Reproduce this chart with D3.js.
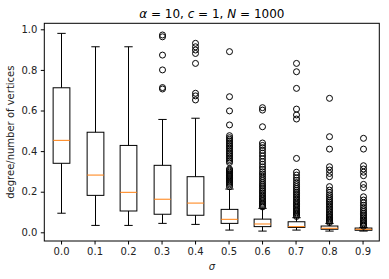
<!DOCTYPE html>
<html><head><meta charset="utf-8">
<script src="https://cdn.jsdelivr.net/npm/d3@7"></script>
<style>
body{margin:0;background:#fff;}
svg text{font-family:"DejaVu Sans",sans-serif;}
</style></head>
<body><svg id="chart" width="389" height="279"></svg>
<script>
const sigmaLabels = ["0.0","0.1","0.2","0.3","0.4","0.5","0.6","0.7","0.8","0.9"];
const whiskerLow  = [0.094,0.034,0.034,0.044,0.039,0.011,0.006,0.011,0.006,0.006];
const q1          = [0.340,0.182,0.105,0.089,0.084,0.044,0.028,0.024,0.015,0.010];
const median      = [0.453,0.282,0.197,0.163,0.144,0.064,0.041,0.028,0.020,0.015];
const q3          = [0.712,0.493,0.428,0.330,0.274,0.113,0.065,0.052,0.031,0.021];
const whiskerHigh = [0.980,0.914,0.914,0.556,0.562,0.213,0.118,0.072,0.044,0.024];
const fliers0 = [];
const fliers1 = [];
const fliers2 = [];
const fliers3 = [0.972,0.963,0.873,0.800,0.713,0.706];
const fliers4 = [0.931,0.914,0.898,0.881,0.832,0.685,0.672,0.652];
const fliers5 = [0.224,0.233,0.240,0.246,0.252,0.258,0.264,0.269,0.275,0.279,0.285,0.290,0.296,0.302,0.307,0.312,
  0.343,0.351,0.359,0.367,0.376,0.384,0.392,0.400,0.409,0.417,0.425,0.433,0.441,0.450,0.458,0.466,0.476,
  0.529,0.598,0.668,0.890];
const fliers6 = [0.125,0.131,0.137,0.143,0.150,0.157,0.164,0.171,0.178,0.186,0.194,0.202,0.210,0.219,0.228,0.237,
  0.246,0.256,0.266,0.276,0.287,0.298,0.310,0.322,0.335,0.348,0.362,0.376,0.390,0.404,0.417,0.428,0.440,
  0.520,0.602,0.614];
const fliers7 = [0.078,0.084,0.090,0.096,0.102,0.108,0.115,0.122,0.129,0.136,0.143,0.150,0.158,0.166,0.174,0.182,
  0.190,0.198,0.207,0.216,0.225,0.235,0.245,0.256,0.268,0.282,0.296,0.364,0.558,0.578,0.607,0.709,0.791,0.832];
const fliers8 = [0.048,0.054,0.060,0.066,0.072,0.078,0.085,0.092,0.100,0.108,0.116,0.124,0.132,0.140,0.148,0.156,
  0.165,0.175,0.185,0.196,0.208,0.225,0.274,0.290,0.307,0.323,0.410,0.471,0.660];
const fliers9 = [0.030,0.036,0.042,0.048,0.055,0.062,0.070,0.078,0.086,0.094,0.103,0.112,0.122,0.133,0.145,0.159,
  0.175,0.220,0.236,0.279,0.296,0.312,0.328,0.410,0.463];
const allFliers = [fliers0,fliers1,fliers2,fliers3,fliers4,fliers5,fliers6,fliers7,fliers8,fliers9];
const yTicks = [0.0,0.2,0.4,0.6,0.8,1.0];

const svg = d3.select("#chart");
const L = 44.3, R = 379.3, T = 23.3, B = 241;
const x = d3.scaleLinear().domain([0.5, 10.5]).range([L, R]);
const y = d3.scaleLinear().domain([-0.0428, 1.0296]).range([B, T]);
const boxW = x(1.25) - x(1);   // half-width 0.25
const capW = x(1.125) - x(1);

const g = svg.append("g");
sigmaLabels.forEach((lab, i) => {
  const cx = Math.round(x(i + 1)) + 0.5;
  const gg = g.append("g");
  // whiskers
  gg.append("line").attr("x1", cx).attr("x2", cx).attr("y1", y(q1[i])).attr("y2", y(whiskerLow[i])).attr("stroke", "#000");
  gg.append("line").attr("x1", cx).attr("x2", cx).attr("y1", y(q3[i])).attr("y2", y(whiskerHigh[i])).attr("stroke", "#000");
  // caps
  gg.append("line").attr("x1", cx - capW).attr("x2", cx + capW).attr("y1", y(whiskerLow[i])).attr("y2", y(whiskerLow[i])).attr("stroke", "#000");
  gg.append("line").attr("x1", cx - capW).attr("x2", cx + capW).attr("y1", y(whiskerHigh[i])).attr("y2", y(whiskerHigh[i])).attr("stroke", "#000");
  // box
  gg.append("rect").attr("x", cx - boxW).attr("width", 2 * boxW)
    .attr("y", y(q3[i])).attr("height", y(q1[i]) - y(q3[i]))
    .attr("fill", "none").attr("stroke", "#000");
  // median
  gg.append("line").attr("x1", cx - boxW).attr("x2", cx + boxW).attr("y1", y(median[i])).attr("y2", y(median[i])).attr("stroke", "#ff7f0e");
  // fliers
  gg.selectAll("circle").data(allFliers[i]).enter().append("circle")
    .attr("cx", cx).attr("cy", d => y(d)).attr("r", 3)
    .attr("fill", "none").attr("stroke", "#000").attr("stroke-width", 1);
});

// axes
const xAxis = d3.axisBottom(x).tickValues(d3.range(1, 11)).tickFormat((d, i) => sigmaLabels[i]).tickSize(3.5).tickPadding(3.5);
const yAxis = d3.axisLeft(y).tickValues(yTicks).tickFormat(d3.format(".1f")).tickSize(3.5).tickPadding(3.5);
const gx = svg.append("g").attr("transform", `translate(0,${B})`).call(xAxis);
const gy = svg.append("g").attr("transform", `translate(${L},0)`).call(yAxis);
[gx, gy].forEach(a => {
  a.select(".domain").remove();
  a.selectAll("line").attr("stroke", "#000");
  a.selectAll("text").attr("font-size", 10).attr("fill", "#222").attr("font-family", "DejaVu Sans");
});
// frame
svg.append("rect").attr("x", L).attr("y", T).attr("width", R - L).attr("height", B - T)
  .attr("fill", "none").attr("stroke", "#000").attr("stroke-width", 1);

// title
const title = svg.append("text").attr("x", (L + R) / 2).attr("y", 18).attr("text-anchor", "middle")
  .attr("font-size", 12).attr("fill", "#000");
title.append("tspan").attr("font-style", "italic").text("α");
title.append("tspan").text(" = 10, ");
title.append("tspan").attr("font-style", "italic").text("c");
title.append("tspan").text(" = 1, ");
title.append("tspan").attr("font-style", "italic").text("N");
title.append("tspan").text(" = 1000");

// x label
svg.append("text").attr("x", (L + R) / 2).attr("y", 270).attr("text-anchor", "middle")
  .attr("font-size", 10).attr("font-style", "italic").attr("fill", "#222").text("σ");
// y label
svg.append("text").attr("transform", `translate(14,${(T + B) / 2}) rotate(-90)`).attr("text-anchor", "middle")
  .attr("font-size", 10).attr("fill", "#222").text("degree/number of vertices");
</script></body></html>
